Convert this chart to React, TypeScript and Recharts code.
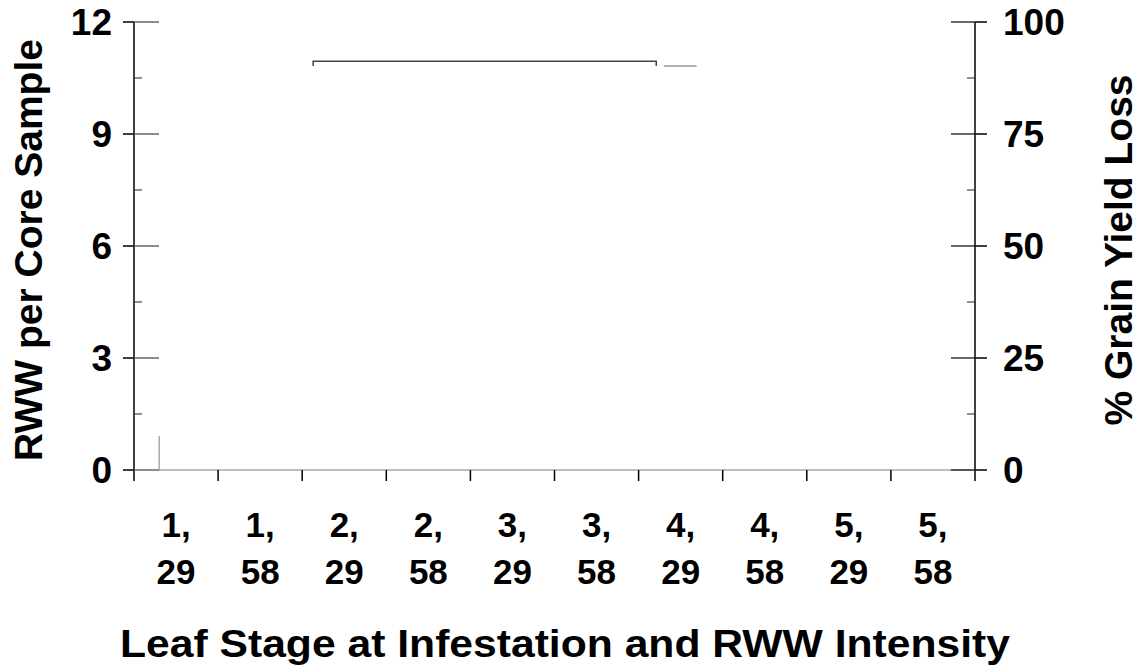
import React from 'react';
import { ComposedChart, Line, XAxis, YAxis, Label } from 'recharts';

// leaf stage / RWW intensity pairs, one per category band
const leafStages = ['1', '1', '2', '2', '3', '3', '4', '4', '5', '5'];
const rwwIntensity = ['29', '58', '29', '58', '29', '58', '29', '58', '29', '58'];

const leftTicks = [0, 1.5, 3, 4.5, 6, 7.5, 9, 10.5, 12];
const rightTicks = [0, 12.5, 25, 37.5, 50, 62.5, 75, 87.5, 100];
const bandTicks = [0, 0.5, 1, 1.5, 2, 2.5, 3, 3.5, 4, 4.5, 5, 5.5, 6, 6.5, 7, 7.5, 8, 8.5, 9, 9.5, 10];

// faint traces left in the plot (x in category units)
// RWW per core sample (left axis)
const baseTrace = [
  { x: 0.3, y: 0.91 },
  { x: 0.3, y: 0 },
  { x: 10, y: 0 },
];
const bracketTrace = [
  { x: 2.13, y: 10.82 },
  { x: 2.13, y: 10.95 },
  { x: 6.21, y: 10.95 },
  { x: 6.21, y: 10.82 },
];
// % grain yield loss (right axis)
const lossTrace = [
  { x: 6.3, y: 90.2 },
  { x: 6.69, y: 90.2 },
];

const FONT = '"Liberation Sans", Arial, sans-serif';
const textStyle = { fontFamily: FONT, fontWeight: 700, fill: '#000' };

const LeftTick = (props: any) => {
  const { x, y, payload } = props;
  const v = payload.value;
  const major = v % 3 === 0;
  if (!major) {
    return <line x1={x} x2={x + 8} y1={y} y2={y} stroke="#222" strokeWidth={1} />;
  }
  return (
    <g>
      <line x1={x - 11} x2={x} y1={y} y2={y} stroke="#000" strokeWidth={1.5} />
      <line x1={x} x2={x + 25} y1={y} y2={y} stroke="#666" strokeWidth={1.5} />
      <text x={x - 22} y={y} dy="0.36em" textAnchor="end" fontSize={37} style={textStyle}>
        {v}
      </text>
    </g>
  );
};

const RightTick = (props: any) => {
  const { x, y, payload } = props;
  const v = payload.value;
  const major = v % 25 === 0;
  if (!major) {
    return <line x1={x - 8} x2={x} y1={y} y2={y} stroke="#222" strokeWidth={1} />;
  }
  return (
    <g>
      <line x1={x - 24} x2={x} y1={y} y2={y} stroke="#333" strokeWidth={1.5} />
      <line x1={x} x2={x + 12} y1={y} y2={y} stroke="#000" strokeWidth={1.5} />
      <text x={x + 28} y={y} dy="0.36em" textAnchor="start" fontSize={37} style={textStyle}>
        {v}
      </text>
    </g>
  );
};

const BandTick = (props: any) => {
  const { x, y, payload } = props;
  const v = payload.value;
  if (Number.isInteger(v)) {
    return <line x1={x} x2={x} y1={y} y2={y + 11} stroke="#000" strokeWidth={1.5} />;
  }
  const i = Math.floor(v);
  return (
    <g>
      <text x={x} y={y + 67} textAnchor="middle" fontSize={35} style={textStyle}>
        {leafStages[i] + ','}
      </text>
      <text x={x} y={y + 114} textAnchor="middle" fontSize={35} style={textStyle}>
        {rwwIntensity[i]}
      </text>
    </g>
  );
};

export default function App() {
  return (
    <div style={{ position: 'absolute', left: 0, top: 0, background: '#fff' }}>
      <ComposedChart width={1141} height={666} margin={{ top: 22, right: 0, bottom: 0, left: 0 }}>
        <XAxis
          xAxisId="band"
          type="number"
          dataKey="x"
          domain={[0, 10]}
          ticks={bandTicks}
          interval={0}
          height={196}
          axisLine={false}
          tickLine={false}
          tickSize={0}
          tickMargin={0}
          tick={<BandTick />}
        >
          <Label
            content={(p: any) => (
              <text
                x={565}
                y={p.viewBox.y + 187}
                textAnchor="middle"
                fontSize={38}
                textLength={890}
                lengthAdjust="spacingAndGlyphs"
                style={textStyle}
              >
                Leaf Stage at Infestation and RWW Intensity
              </text>
            )}
          />
        </XAxis>
        <XAxis
          xAxisId="frame"
          orientation="top"
          type="number"
          domain={[0, 10]}
          height={0}
          tick={false}
          tickLine={false}
          axisLine={{ stroke: '#000', strokeWidth: 1.5 }}
        />
        <YAxis
          yAxisId="rww"
          domain={[0, 12]}
          ticks={leftTicks}
          interval={0}
          width={134}
          tickLine={false}
          tickSize={0}
          tickMargin={0}
          tick={<LeftTick />}
          axisLine={{ stroke: '#000', strokeWidth: 1.5 }}
        >
          <Label
            content={(p: any) => {
              const cy = p.viewBox.y + p.viewBox.height / 2 + 4;
              return (
                <text
                  x={28}
                  y={cy}
                  transform={`rotate(-90 28 ${cy})`}
                  dy="0.36em"
                  textAnchor="middle"
                  fontSize={39}
                  style={textStyle}
                >
                  RWW per Core Sample
                </text>
              );
            }}
          />
        </YAxis>
        <YAxis
          yAxisId="loss"
          orientation="right"
          domain={[0, 100]}
          ticks={rightTicks}
          interval={0}
          width={166}
          tickLine={false}
          tickSize={0}
          tickMargin={0}
          tick={<RightTick />}
          axisLine={{ stroke: '#000', strokeWidth: 1.5 }}
        >
          <Label
            content={(p: any) => {
              const cy = p.viewBox.y + p.viewBox.height / 2 + 4;
              return (
                <text
                  x={1118}
                  y={cy}
                  transform={`rotate(-90 1118 ${cy})`}
                  dy="0.36em"
                  textAnchor="middle"
                  fontSize={39}
                  style={textStyle}
                >
                  % Grain Yield Loss
                </text>
              );
            }}
          />
        </YAxis>
        <Line
          xAxisId="band"
          yAxisId="rww"
          data={baseTrace}
          dataKey="y"
          type="linear"
          stroke="#aaaaaa"
          strokeWidth={1.5}
          dot={false}
          isAnimationActive={false}
        />
        <Line
          xAxisId="band"
          yAxisId="rww"
          data={bracketTrace}
          dataKey="y"
          type="linear"
          stroke="#444444"
          strokeWidth={1.5}
          dot={false}
          isAnimationActive={false}
        />
        <Line
          xAxisId="band"
          yAxisId="loss"
          data={lossTrace}
          dataKey="y"
          type="linear"
          stroke="#999999"
          strokeWidth={1.5}
          dot={false}
          isAnimationActive={false}
        />
      </ComposedChart>
    </div>
  );
}
